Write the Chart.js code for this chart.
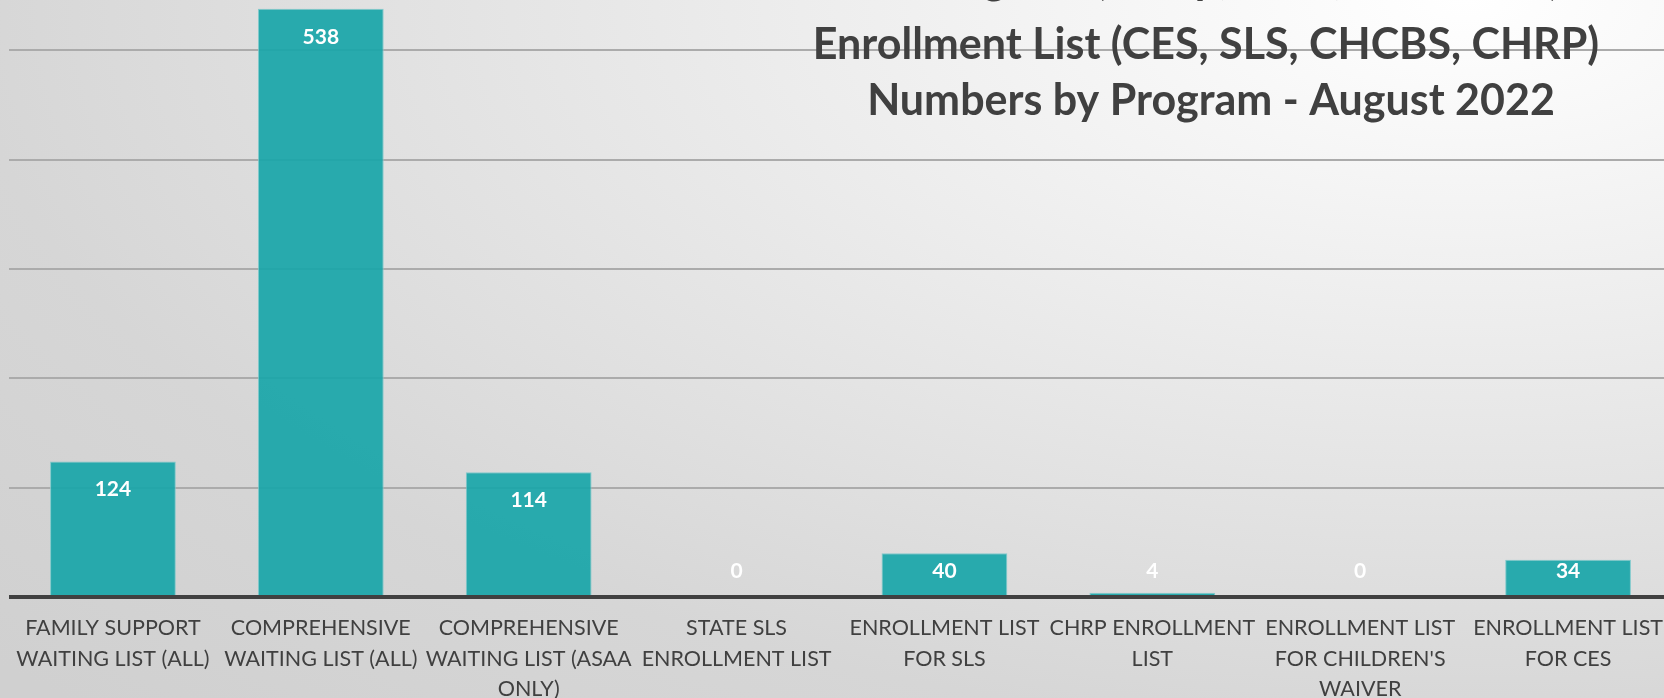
<!DOCTYPE html>
<html>
<head>
<meta charset="utf-8">
<script src="https://cdn.jsdelivr.net/npm/chart.js@4"></script>
<style>
  html, body { margin: 0; padding: 0; }
  body {
    width: 1664px; height: 698px; overflow: hidden;
    background: radial-gradient(ellipse 120% 140% at 88% 0%, #ffffff 0%, #ececec 35%, #d6d6d6 75%, #d0d0d0 100%);
  }
  #waitChart { display: block; }
</style>
</head>
<body>
<canvas id="waitChart" width="1672" height="698"></canvas>
<script>
const programs = [
    ['FAMILY SUPPORT', 'WAITING LIST (ALL)'],
    ['COMPREHENSIVE', 'WAITING LIST (ALL)'],
    ['COMPREHENSIVE', 'WAITING LIST (ASAA', 'ONLY)'],
    ['STATE SLS', 'ENROLLMENT LIST'],
    ['ENROLLMENT LIST', 'FOR SLS'],
    ['CHRP ENROLLMENT', 'LIST'],
    ['ENROLLMENT LIST', "FOR CHILDREN'S", 'WAIVER'],
    ['ENROLLMENT LIST', 'FOR CES']
];
const counts = [124, 538, 114, 0, 40, 4, 0, 34];
const titleLines = [
    'Waiting List (Comp, FSSP, HCBS-DD)',
    'Enrollment List (CES, SLS, CHCBS, CHRP)',
    'Numbers by Program - August 2022'
];

const titlePlugin = {
    id: 'titleText',
    afterDraw(chart) {
        const ctx = chart.ctx;
        ctx.save();
        ctx.fillStyle = '#404040';
        ctx.font = 'bold 43px Lato';
        ctx.textAlign = 'center';
        ctx.textBaseline = 'middle';
        ctx.fillText(titleLines[0], 1208, -20);
        ctx.fillText(titleLines[1], 1206, 45);
        ctx.fillText(titleLines[2], 1211, 101);
        ctx.restore();
    }
};

const valueLabels = {
    id: 'valueLabels',
    afterDatasetsDraw(chart) {
        const ctx = chart.ctx;
        const base = chart.scales.y.getPixelForValue(0);
        ctx.save();
        ctx.fillStyle = '#ffffff';
        ctx.font = 'bold 21px Lato';
        ctx.textAlign = 'center';
        ctx.textBaseline = 'middle';
        chart.getDatasetMeta(0).data.forEach((bar, i) => {
            const y = Math.min(bar.y + 28, base - 26);
            ctx.fillText(counts[i], bar.x, y);
        });
        ctx.restore();
    }
};

const ctx = document.getElementById('waitChart').getContext('2d');

new Chart(ctx, {
    type: 'bar',
    data: {
        labels: programs,
        datasets: [{
            data: counts,
            backgroundColor: 'rgba(26, 166, 169, 0.93)',
            borderColor: 'rgba(120, 200, 202, 0.9)',
            borderWidth: 1,
            barPercentage: 0.605,
            categoryPercentage: 1
        }]
    },
    options: {
        responsive: false,
        animation: false,
        layout: { padding: { left: 9, top: 0, right: 0, bottom: 0 } },
        plugins: {
            legend: { display: false },
            tooltip: { enabled: false }
        },
        scales: {
            x: {
                grid: { display: false },
                border: { display: false },
                ticks: {
                    color: '#404040',
                    font: { family: 'Lato', size: 21.5, lineHeight: 1.42 },
                    padding: 8,
                    maxRotation: 0,
                    autoSkip: false
                },
                afterFit: function (scale) {
                    scale.height = 101;
                    scale.paddingLeft = 0;
                    scale.paddingRight = 0;
                }
            },
            y: {
                min: 0,
                max: 546,
                border: { display: false },
                ticks: { display: false, stepSize: 100, includeBounds: false },
                grid: {
                    drawTicks: false,
                    color: c => c.tick.value === 0 ? '#404040' : '#ababab',
                    lineWidth: c => c.tick.value === 0 ? 4 : 2
                },
                afterFit: function (scale) { scale.width = 0; }
            }
        }
    },
    plugins: [titlePlugin, valueLabels]
});
</script>
</body>
</html>
